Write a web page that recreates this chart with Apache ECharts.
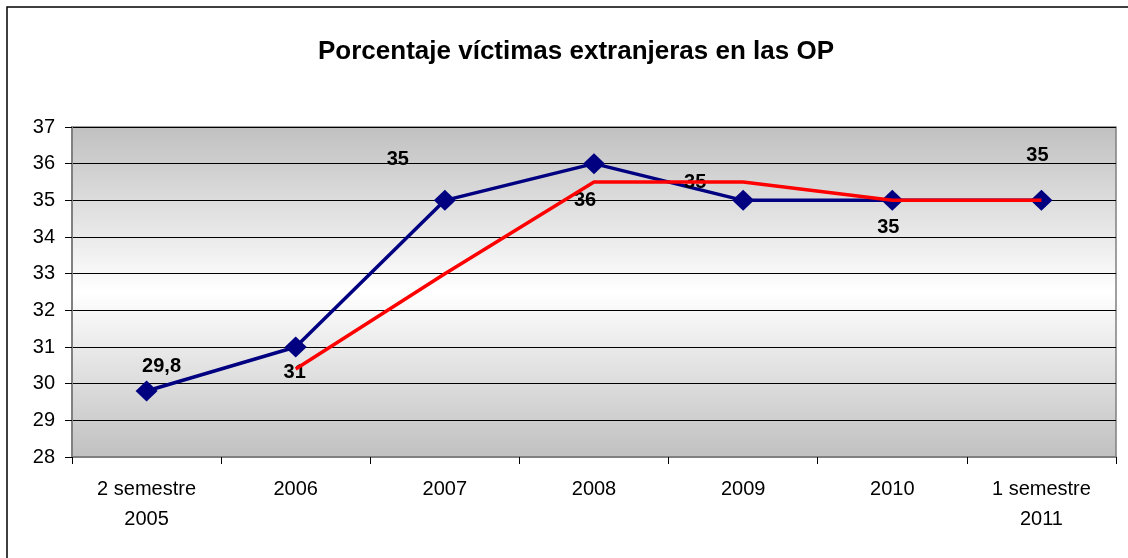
<!DOCTYPE html>
<html>
<head>
<meta charset="utf-8">
<script src="https://cdn.jsdelivr.net/npm/echarts@6/dist/echarts.min.js"></script>
<style>
  html, body { margin: 0; padding: 0; background: #fff; }
  #chart { width: 1128px; height: 558px; }
</style>
</head>
<body>
<div id="chart"></div>
<script>
const categories = ['2 semestre\n2005', '2006', '2007', '2008', '2009', '2010', '1 semestre\n2011'];
const porcentaje = [29.8, 31, 35, 36, 35, 35, 35];
const mediaMovil = [null, 30.4, 33, 35.5, 35.5, 35, 35];

// where each data label sits relative to its point (as in the original sheet)
const labelOffsets = [[15, -25], [-1, 25], [-47, -41], [-9, 37], [-48, -18], [-4, 27], [-4, -45]];

const chart = echarts.init(document.getElementById('chart'));

chart.setOption({
  animation: false,
  title: {
    text: 'Porcentaje víctimas extranjeras en las OP',
    left: 571,
    textAlign: 'center',
    top: 34,
    textStyle: {
      fontFamily: '"Liberation Sans Narrow", "Liberation Sans", Arial, sans-serif',
      fontSize: 26,
      fontWeight: 'bold',
      color: '#000'
    }
  },
  graphic: [
    {
      type: 'rect',
      shape: { x: 7, y: 7, width: 1200, height: 600 },
      style: { fill: 'none', stroke: '#000', lineWidth: 1.5 },
      silent: true
    }
  ],
  grid: {
    left: 72,
    right: 12,
    top: 127,
    bottom: 101,
    show: true,
    borderColor: '#808080',
    borderWidth: 1.5,
    backgroundColor: new echarts.graphic.LinearGradient(0, 0, 0, 1, [
      { offset: 0, color: '#c0c0c0' },
      { offset: 0.5, color: '#ffffff' },
      { offset: 1, color: '#c0c0c0' }
    ])
  },
  xAxis: {
    type: 'category',
    data: categories,
    boundaryGap: true,
    axisLine: { lineStyle: { color: '#808080', width: 2 } },
    axisTick: { show: true, length: 7, lineStyle: { color: '#000' } },
    axisLabel: {
      color: '#000',
      fontFamily: '"Liberation Sans", Arial, sans-serif',
      fontSize: 20,
      lineHeight: 30,
      margin: 17
    }
  },
  yAxis: {
    type: 'value',
    min: 28,
    max: 37,
    interval: 1,
    axisLine: { show: true, lineStyle: { color: '#808080', width: 2 } },
    axisTick: { show: true, length: 7, lineStyle: { color: '#000' } },
    splitLine: { show: true, lineStyle: { color: '#000', width: 1 } },
    axisLabel: {
      color: '#000',
      fontFamily: '"Liberation Sans", Arial, sans-serif',
      fontSize: 20,
      margin: 17
    }
  },
  series: [
    {
      name: 'Media',
      type: 'line',
      data: mediaMovil,
      symbol: 'none',
      lineStyle: { color: '#ff0000', width: 3.5 },
      z: 2
    },
    {
      name: 'Porcentaje',
      type: 'line',
      data: porcentaje.map((v, i) => ({
        value: v,
        label: { offset: labelOffsets[i] }
      })),
      symbol: 'diamond',
      symbolSize: [22, 21],
      lineStyle: { color: '#000080', width: 3.5 },
      itemStyle: { color: '#000080' },
      label: {
        show: true,
        position: 'inside',
        color: '#000',
        fontFamily: '"Liberation Sans", Arial, sans-serif',
        fontSize: 20,
        fontWeight: 'bold',
        formatter: (p) => String(p.value).replace('.', ',')
      },
      z: 1
    }
  ]
});
</script>
</body>
</html>
